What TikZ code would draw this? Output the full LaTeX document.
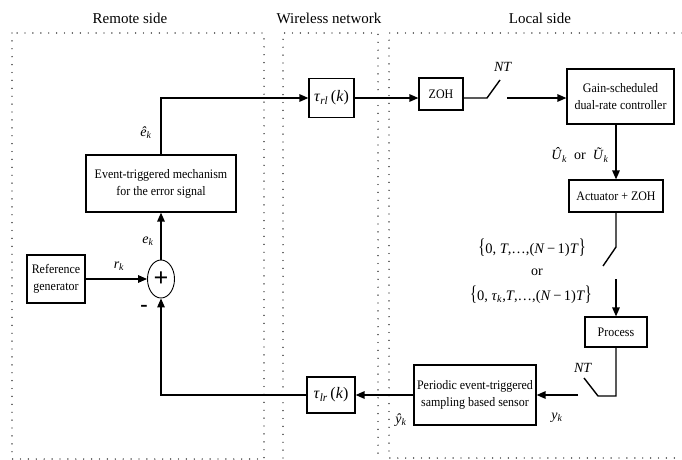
\documentclass[tikz,border=0pt]{standalone}
\usepackage{fontspec}
\setmainfont{Liberation Serif}
\newfontfamily\boxfont{Liberation Serif}[FakeStretch=0.92]
\usetikzlibrary{arrows.meta,calc,shapes.geometric}
\begin{document}
\begin{tikzpicture}[x=1pt,y=-1pt,
  blk/.style={draw,line width=1.2pt,inner sep=0pt,align=center,
    font=\boxfont\fontsize{13}{17}\selectfont},
  arr/.style={-{Triangle[length=9pt,width=7.5pt]},line width=1.4pt},
  ln/.style={line width=1.4pt},
  zone/.style={line width=1.4pt,dash pattern=on 0pt off 7.9pt,line cap=round},
  ttl/.style={font=\fontsize{15}{15}\selectfont},
  lbl/.style={inner sep=0pt,font=\fontsize{14}{14}\selectfont},
  setlbl/.style={inner sep=0pt,font=\fontsize{14.5}{14.5}\selectfont}]
\useasboundingbox (0,0) rectangle (682,460);
% zones
\draw[zone] (12,33) rectangle (264,459);
\draw[zone] (283,458) -- (283,33) -- (378,33) -- (378,458);
\draw[zone] (682,33) -- (389,33) -- (389,458) -- (682,458);
\node[ttl] (t1) at (130,18) {Remote side};
\node[ttl] (t2) at (329,18) {Wireless network};
\node[ttl] (t3) at (540,18) {Local side};
% blocks
\node[blk,minimum width=45pt,minimum height=39pt,font=\fontsize{16}{16}\selectfont] (tauRL) at (331.5,98)
  {\textit{τ}\textsubscript{\textit{rl}}\,(\textit{k})};
\node[blk,minimum width=44pt,minimum height=32pt] (zoh) at (441,94) {ZOH};
\node[blk,minimum width=107pt,minimum height=55pt] (gain) at (620.5,96.5) {Gain-scheduled\\dual-rate controller};
\node[blk,minimum width=94pt,minimum height=32pt] (act) at (616,196) {Actuator + ZOH};
\node[blk,minimum width=62pt,minimum height=30pt] (proc) at (616,332) {Process};
\node[blk,minimum width=122pt,minimum height=60pt] (sensor) at (475,395) {Periodic event-triggered\\sampling based sensor};
\node[blk,minimum width=48pt,minimum height=36pt,font=\fontsize{16}{16}\selectfont] (tauLR) at (331,395)
  {\textit{τ}\textsubscript{\textit{lr}}\,(\textit{k})};
\node[blk,minimum width=150pt,minimum height=57pt] (event) at (161,183.5) {Event-triggered mechanism\\for the error signal};
\node[blk,minimum width=58pt,minimum height=48pt] (ref) at (56,279) {Reference\\generator};
\node[draw,ellipse,line width=0.9pt,minimum width=27pt,minimum height=38pt,inner sep=0pt,
  font=\fontsize{26}{26}\selectfont\bfseries] (sum) at (161,279) {+};
% switch points
\coordinate (s1a) at (487,98);
\coordinate (s1b) at (500,80);
\coordinate (s1c) at (507,98);
\coordinate (s2a) at (616,247);
\coordinate (s2b) at (603,266);
\coordinate (s2c) at (616,279);
\coordinate (s3c) at (598,396);
\coordinate (s3d) at (584,378);
\coordinate (s3e) at (578,395);
% connectors
\draw[arr] (event.north) |- (tauRL.west);
\draw[arr] (tauRL.east) -- (tauRL.east -| zoh.west);
\draw[ln] (zoh.east |- s1a) -- (s1a) -- (s1b);
\draw[arr] (s1c) -- (s1c -| gain.west);
\draw[arr] (act.north |- gain.south) -- (act.north);
\draw[ln] (act.south) -- (s2a) -- (s2b);
\draw[arr] (s2c) -- (proc.north);
\draw[ln] (proc.south) |- (s3c) -- (s3d);
\draw[arr] (s3e) -- (s3e -| sensor.east);
\draw[arr] (sensor.west) -- (tauLR.east);
\draw[arr] (tauLR.west) -| (sum.south);
\draw[arr] (ref.east) -- (sum.west);
\draw[arr] (sum.north) -- (event.south);
% labels
\node[lbl] (lehat) at (146,133) {\textit{ê}\textsubscript{\textit{k}}};
\node[lbl] (lek) at (148,241) {\textit{e}\textsubscript{\textit{k}}};
\node[lbl] (lrk) at (119,266) {\textit{r}\textsubscript{\textit{k}}};
\node[lbl,font=\fontsize{22}{22}\selectfont\bfseries] (lminus) at (144,308) {-};
\node[lbl] (lnt1) at (503,67) {\textit{NT}};
\node[lbl] (lu) at (580,155) {\textit{Û}\textsubscript{\textit{k}}\enspace or\enspace \textit{Ũ}\textsubscript{\textit{k}}};
\node[setlbl] (lset1) at (532,248) {\scalebox{1}[1.45]{\{}0, \textit{T},…,(\textit{N}\,−\,1)\textit{T}\scalebox{1}[1.45]{\}}};
\node[lbl] (lor) at (537,272) {or};
\node[setlbl] (lset2) at (531,295) {\scalebox{1}[1.45]{\{}0, \textit{τ}\textsubscript{\textit{k}},\textit{T},…,(\textit{N}\,−\,1)\textit{T}\scalebox{1}[1.45]{\}}};
\node[lbl] (lnt2) at (583,368) {\textit{NT}};
\node[lbl] (lyk) at (557,418) {\textit{y}\textsubscript{\textit{k}}};
\node[lbl] (lyhat) at (401,420) {\textit{ŷ}\textsubscript{\textit{k}}};
\end{tikzpicture}
\end{document}
